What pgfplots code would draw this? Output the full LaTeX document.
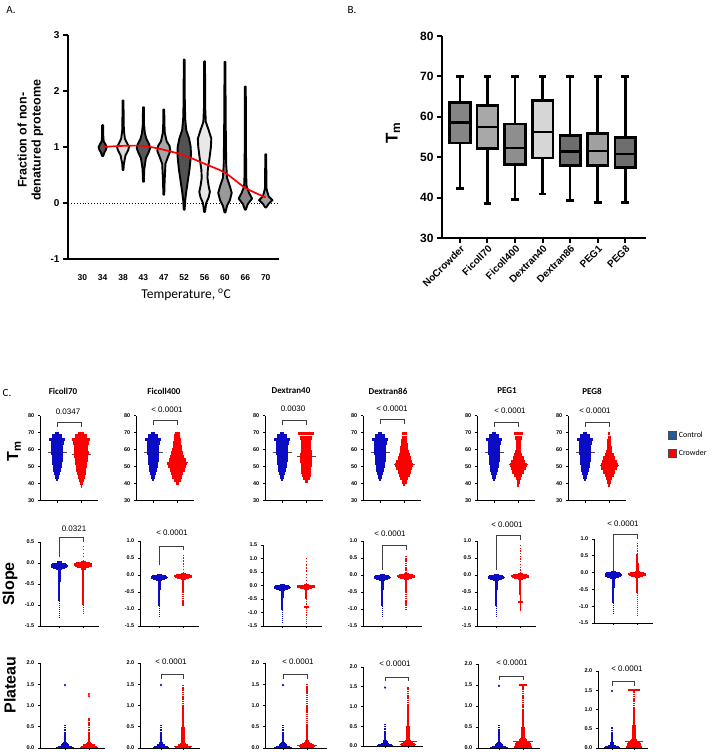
\documentclass[border=0pt]{standalone}
\usepackage{fontspec}
\setmainfont{Liberation Sans}
\newfontfamily\calib{Carlito}
\usepackage{pgfplots}
\pgfplotsset{compat=1.18}
\usepackage{pgfplotstable}

\definecolor{ctrl}{HTML}{0C0CC4}
\definecolor{crwd}{HTML}{FF0000}
\definecolor{legblue}{HTML}{245A9E}
\definecolor{bxA}{HTML}{858585}
\definecolor{bxB}{HTML}{A8A8A8}
\definecolor{bxC}{HTML}{8E8E8E}
\definecolor{bxD}{HTML}{D6D6D6}
\definecolor{bxE}{HTML}{6E6E6E}
\definecolor{bxF}{HTML}{A0A0A0}

% ---- Tm swarms: y = Tm level, w = half width of the swarm at that level
\pgfplotstableread{
y w
42.5 0.04
44 0.09
46 0.13
48 0.16
50 0.19
52 0.21
54 0.22
56 0.24
58 0.26
60 0.26
62 0.25
64 0.28
66 0.34
68 0.20
69.5 0.08
}\tmC
\pgfplotstableread{
y w
38.5 0.03
40 0.07
42 0.11
44 0.15
46 0.18
48 0.20
50 0.23
52 0.26
54 0.28
56 0.30
58 0.32
60 0.30
62 0.30
64 0.33
66 0.37
68 0.26
69.5 0.12
}\tmFa
\pgfplotstableread{
y w
40 0.06
42 0.14
44 0.20
46 0.26
48 0.32
50 0.38
52 0.42
54 0.36
56 0.30
58 0.26
60 0.22
62 0.19
64 0.17
66 0.15
68 0.13
69.5 0.10
}\tmFb
\pgfplotstableread{
y w
41.5 0.06
43 0.14
45 0.18
47 0.20
49 0.22
51 0.23
53 0.24
55 0.26
57 0.26
59 0.23
61 0.20
63 0.20
65 0.22
67 0.25
69.5 0.33
}\tmDa
\pgfplotstableread{
y w
39.5 0.05
41 0.10
43 0.16
45 0.22
47 0.28
49 0.33
51 0.38
53 0.34
55 0.28
57 0.22
59 0.18
61 0.16
63 0.14
65 0.13
67 0.11
69.5 0.10
}\tmDb
\pgfplotstableread{
y w
39 0.04
41 0.07
43 0.10
45 0.16
47 0.24
49 0.32
51 0.36
53 0.30
55 0.22
57 0.16
59 0.12
61 0.10
63 0.10
65 0.11
67 0.14
69.5 0.18
}\tmPa
\pgfplotstableread{
y w
39 0.05
41 0.08
43 0.12
45 0.18
47 0.26
49 0.33
51 0.36
53 0.32
55 0.26
57 0.18
59 0.13
61 0.11
63 0.09
65 0.08
67 0.06
69.5 0.04
}\tmPb

% ---- slope swarms (dense core)
\pgfplotstableread{
y w
0.02 0.10
-0.01 0.28
-0.04 0.34
-0.07 0.36
-0.10 0.34
-0.13 0.24
-0.16 0.12
}\slC
\pgfplotstableread{
y w
0.04 0.10
0.01 0.30
-0.02 0.37
-0.05 0.38
-0.08 0.36
-0.11 0.24
-0.14 0.10
}\slR

% ---- plateau swarms (dense core)
\pgfplotstableread{
y w
0.01 0.36
0.04 0.30
0.07 0.18
0.10 0.11
0.13 0.08
}\plC
\pgfplotstableread{
y w
0.01 0.36
0.04 0.34
0.07 0.24
0.10 0.14
0.13 0.09
}\plRa
\pgfplotstableread{
y w
0.01 0.30
0.04 0.34
0.07 0.30
0.10 0.22
0.13 0.14
0.16 0.10
}\plRb
\pgfplotstableread{
y w
0.01 0.36
0.04 0.36
0.07 0.34
0.10 0.32
0.13 0.28
0.16 0.22
0.19 0.16
0.22 0.12
0.25 0.10
}\plRc

\pgfplotsset{
  every axis/.append style={/pgf/number format/assume math mode=true},
  sw/.style={scale only axis, anchor=south west,
    axis x line=bottom, axis y line=left,
    axis line style={line width=0.8pt,-}, tick align=outside,
    major tick length=2.2pt, tick style={line width=0.6pt,black},
    xtick={0,1}, xticklabels={}, clip=false,
    tick label style={font=\fontsize{5.5}{6}\selectfont\bfseries}},
  tmrow/.style={sw, width=58pt, height=85pt, xmin=-0.72, xmax=1.7,
    ymin=30, ymax=80, ytick={30,40,50,60,70,80}},
  dec/.style={yticklabel style={/pgf/number format/.cd, fixed, fixed zerofill, precision=1}},
  slrow/.style={sw, dec, width=58.8pt, xmin=-0.8, xmax=1.65},
  plrow/.style={sw, dec, ymin=0, ymax=2, ytick={0,0.5,1,1.5,2}},
  brk/.style={black!75, line width=0.6pt},
  medl/.style={black!70, line width=0.7pt},
  bx/.style={draw=black, line width=2.6pt},
}
\newcommand{\swarm}[4]{\addplot[draw=none, mark=none, error bars/.cd, x dir=both, x explicit, error mark=none, error bar style={draw=#1, line width=#2}] table[x expr=#3, y=y, x error=w] {#4};}
\newcommand{\pv}{\fontsize{8}{9}\selectfont}
\newcommand{\ttl}{\calib\bfseries\fontsize{9}{10}\selectfont}

\begin{document}
\begin{tikzpicture}
\path[use as bounding box] (0pt,0pt) rectangle (714pt,752pt);

% ================= A: violins =================
\begin{axis}[at={(68pt,493pt)}, anchor=south west, scale only axis,
  width=211pt, height=224pt, xmin=-0.7, xmax=9.65, ymin=-1, ymax=3,
  axis x line=bottom, axis y line=left, axis line style={line width=2.4pt,-},
  tick align=outside, major tick length=5pt, tick style={line width=2pt,black},
  xtick={0,...,9}, xticklabels={30,34,38,43,47,52,56,60,66,70},
  xtick style={draw=none}, ytick={-1,0,1,2,3},
  xticklabel style={font=\fontsize{8.5}{10}\selectfont\bfseries, yshift=-7.5pt},
  yticklabel style={font=\fontsize{10}{12}\selectfont\bfseries},
  xlabel={Temperature, \textsuperscript{o}C},
  xlabel style={at={(axis description cs:0.56,-0.16)}, anchor=center,
    font=\calib\fontsize{13.5}{15}\selectfont},
  ylabel={Fraction of non-\\denatured proteome},
  ylabel style={at={(axis description cs:-0.178,0.53)}, anchor=center,
    align=center, font=\fontsize{12.5}{14}\selectfont\bfseries},
  clip=false]
\addplot[black, dotted, line width=0.9pt] coordinates {(-0.7,0) (9.65,0)};
\pgfplotsset{vio/.style={draw=black, line width=1.9pt, line join=round}}
\addplot[vio, fill=black!68] coordinates {(1.03,0.84)(1.08,0.9)(1.16,0.95)(1.2,1.0)(1.13,1.05)(1.05,1.1)(1.03,1.2)(1.025,1.39)(0.975,1.39)(0.97,1.2)(0.95,1.1)(0.87,1.05)(0.8,1.0)(0.84,0.95)(0.92,0.9)(0.97,0.84)} -- cycle;
\addplot[vio, fill=black!15] coordinates {(2.02,0.59)(2.04,0.7)(2.12,0.85)(2.26,0.95)(2.29,1.0)(2.22,1.05)(2.09,1.15)(2.04,1.3)(2.03,1.5)(2.02,1.83)(1.98,1.83)(1.97,1.5)(1.96,1.3)(1.91,1.15)(1.78,1.05)(1.71,1.0)(1.74,0.95)(1.88,0.85)(1.96,0.7)(1.98,0.59)} -- cycle;
\addplot[vio, fill=black!65] coordinates {(3.02,0.38)(3.04,0.6)(3.12,0.8)(3.25,0.9)(3.33,0.98)(3.28,1.05)(3.14,1.15)(3.07,1.25)(3.03,1.4)(3.02,1.71)(2.98,1.71)(2.97,1.4)(2.93,1.25)(2.86,1.15)(2.72,1.05)(2.67,0.98)(2.75,0.9)(2.88,0.8)(2.96,0.6)(2.98,0.38)} -- cycle;
\addplot[vio, fill=black!35] coordinates {(4.02,0.15)(4.04,0.4)(4.08,0.7)(4.2,0.82)(4.32,0.93)(4.28,1.02)(4.14,1.1)(4.05,1.25)(4.03,1.4)(4.02,1.67)(3.98,1.67)(3.97,1.4)(3.95,1.25)(3.86,1.1)(3.72,1.02)(3.68,0.93)(3.8,0.82)(3.92,0.7)(3.96,0.4)(3.98,0.15)} -- cycle;
\addplot[vio, fill=black!68] coordinates {(5.02,-0.12)(5.05,0.05)(5.1,0.2)(5.18,0.4)(5.26,0.6)(5.33,0.85)(5.32,1.0)(5.24,1.15)(5.1,1.3)(5.05,1.5)(5.03,1.8)(5.02,2.56)(4.98,2.56)(4.97,1.8)(4.95,1.5)(4.9,1.3)(4.76,1.15)(4.68,1.0)(4.67,0.85)(4.74,0.6)(4.82,0.4)(4.9,0.2)(4.95,0.05)(4.98,-0.12)} -- cycle;
\addplot[vio, fill=black!9] coordinates {(6.02,-0.16)(6.08,0)(6.2,0.1)(6.26,0.2)(6.2,0.3)(6.14,0.45)(6.16,0.6)(6.24,0.8)(6.31,1.0)(6.33,1.15)(6.2,1.3)(6.06,1.45)(6.03,1.7)(6.02,2.53)(5.98,2.53)(5.97,1.7)(5.94,1.45)(5.8,1.3)(5.67,1.15)(5.69,1.0)(5.76,0.8)(5.84,0.6)(5.86,0.45)(5.8,0.3)(5.74,0.2)(5.8,0.1)(5.92,0)(5.98,-0.16)} -- cycle;
\addplot[vio, fill=black!40] coordinates {(7.02,-0.17)(7.1,-0.05)(7.24,0.05)(7.33,0.18)(7.24,0.3)(7.1,0.45)(7.06,0.7)(7.05,1.0)(7.04,1.3)(7.03,1.8)(7.02,2.52)(6.98,2.52)(6.97,1.8)(6.96,1.3)(6.95,1.0)(6.94,0.7)(6.9,0.45)(6.76,0.3)(6.67,0.18)(6.76,0.05)(6.9,-0.05)(6.98,-0.17)} -- cycle;
\addplot[vio, fill=black!47] coordinates {(8.02,-0.12)(8.12,-0.02)(8.33,0.08)(8.18,0.18)(8.06,0.3)(8.04,0.5)(8.03,1.0)(8.02,2.08)(7.98,2.08)(7.97,1.0)(7.96,0.5)(7.94,0.3)(7.82,0.18)(7.67,0.08)(7.88,-0.02)(7.98,-0.12)} -- cycle;
\addplot[vio, fill=black!38] coordinates {(9.02,-0.08)(9.15,-0.01)(9.33,0.05)(9.14,0.12)(9.04,0.25)(9.03,0.5)(9.02,0.87)(8.98,0.87)(8.97,0.5)(8.96,0.25)(8.86,0.12)(8.67,0.05)(8.85,-0.01)(8.98,-0.08)} -- cycle;
\addplot[crwd, line width=1.7pt, smooth] coordinates {(1,1.0) (2,1.02) (3,1.02) (4,0.95) (5,0.85) (6,0.7) (7,0.54) (8,0.27) (9,0.1)};
\end{axis}

% ================= B: box plots =================
% each box: whisker, caps, box (q1..q3), median
\begin{axis}[at={(442pt,514pt)}, anchor=south west, scale only axis,
  width=204pt, height=202pt, xmin=-0.65, xmax=6.75, ymin=30, ymax=80,
  axis x line=bottom, axis y line=left, axis line style={line width=2.4pt,-},
  tick align=outside, major tick length=5pt, tick style={line width=2pt,black},
  xtick={0,...,6},
  xticklabels={NoCrowder,Ficoll70,Ficoll400,Dextran40,Dextran86,PEG1,PEG8},
  ytick={30,40,50,60,70,80},
  xticklabel style={rotate=45, anchor=north east, inner sep=1pt,
    font=\fontsize{10}{12}\selectfont\bfseries},
  yticklabel style={font=\fontsize{12}{14}\selectfont\bfseries},
  ylabel={T\textsubscript{m}},
  ylabel style={at={(axis description cs:-0.24,0.52)}, anchor=center,
    font=\fontsize{17}{19}\selectfont\bfseries}]
% NoCrowder
\addplot[bx] coordinates {(0,42.3) (0,70)};
\addplot[bx] coordinates {(-0.14,42.3) (0.14,42.3)};
\addplot[bx] coordinates {(-0.14,70) (0.14,70)};
\addplot[bx, fill=bxA] coordinates {(-0.375,53.5) (0.375,53.5) (0.375,63.6) (-0.375,63.6)} -- cycle;
\addplot[bx] coordinates {(-0.375,58.6) (0.375,58.6)};
% Ficoll70
\addplot[bx] coordinates {(1,38.5) (1,70)};
\addplot[bx] coordinates {(0.86,38.5) (1.14,38.5)};
\addplot[bx] coordinates {(0.86,70) (1.14,70)};
\addplot[bx, fill=bxB] coordinates {(0.625,52.2) (1.375,52.2) (1.375,62.8) (0.625,62.8)} -- cycle;
\addplot[bx] coordinates {(0.625,57.5) (1.375,57.5)};
% Ficoll400
\addplot[bx] coordinates {(2,39.5) (2,70)};
\addplot[bx] coordinates {(1.86,39.5) (2.14,39.5)};
\addplot[bx] coordinates {(1.86,70) (2.14,70)};
\addplot[bx, fill=bxC] coordinates {(1.625,48.2) (2.375,48.2) (2.375,58.2) (1.625,58.2)} -- cycle;
\addplot[bx] coordinates {(1.625,52.3) (2.375,52.3)};
% Dextran40
\addplot[bx] coordinates {(3,40.9) (3,70)};
\addplot[bx] coordinates {(2.86,40.9) (3.14,40.9)};
\addplot[bx] coordinates {(2.86,70) (3.14,70)};
\addplot[bx, fill=bxD] coordinates {(2.625,49.8) (3.375,49.8) (3.375,64.1) (2.625,64.1)} -- cycle;
\addplot[bx] coordinates {(2.625,56.2) (3.375,56.2)};
% Dextran86
\addplot[bx] coordinates {(4,39.3) (4,70)};
\addplot[bx] coordinates {(3.86,39.3) (4.14,39.3)};
\addplot[bx] coordinates {(3.86,70) (4.14,70)};
\addplot[bx, fill=bxE] coordinates {(3.625,48.0) (4.375,48.0) (4.375,55.3) (3.625,55.3)} -- cycle;
\addplot[bx] coordinates {(3.625,51.4) (4.375,51.4)};
% PEG1
\addplot[bx] coordinates {(5,38.8) (5,70)};
\addplot[bx] coordinates {(4.86,38.8) (5.14,38.8)};
\addplot[bx] coordinates {(4.86,70) (5.14,70)};
\addplot[bx, fill=bxF] coordinates {(4.625,48.0) (5.375,48.0) (5.375,55.9) (4.625,55.9)} -- cycle;
\addplot[bx] coordinates {(4.625,51.5) (5.375,51.5)};
% PEG8
\addplot[bx] coordinates {(6,38.8) (6,70)};
\addplot[bx] coordinates {(5.86,38.8) (6.14,38.8)};
\addplot[bx] coordinates {(5.86,70) (6.14,70)};
\addplot[bx, fill=bxE] coordinates {(5.625,47.5) (6.375,47.5) (6.375,54.9) (5.625,54.9)} -- cycle;
\addplot[bx] coordinates {(5.625,50.8) (6.375,50.8)};
\end{axis}

% ================= C: Tm row =================
\begin{axis}[tmrow, at={(40pt,251.3pt)}]
\addplot[medl] coordinates {(-0.4,58.6) (0.4,58.6)};
\addplot[medl] coordinates {(0.6,57.5) (1.42,57.5)};
\swarm{ctrl}{3.5pt}{0}{\tmC}
\swarm{crwd}{3.5pt}{1}{\tmFa}
\addplot[brk] coordinates {(0,73.5) (0,76.3) (1,76.3) (1,73.5)};
\end{axis}
\begin{axis}[tmrow, at={(136pt,251.3pt)}]
\addplot[medl] coordinates {(-0.4,58.6) (0.4,58.6)};
\addplot[medl] coordinates {(0.56,52.3) (1.46,52.3)};
\swarm{ctrl}{3.5pt}{0}{\tmC}
\swarm{crwd}{3.5pt}{1}{\tmFb}
\addplot[brk] coordinates {(0,74.5) (0,77.5) (1,77.5) (1,74.5)};
\end{axis}
\begin{axis}[tmrow, at={(265pt,251.3pt)}]
\addplot[medl] coordinates {(-0.4,58.6) (0.4,58.6)};
\addplot[medl] coordinates {(0.6,56.2) (1.42,56.2)};
\swarm{ctrl}{3.5pt}{0}{\tmC}
\swarm{crwd}{3.5pt}{1}{\tmDa}
\addplot[brk] coordinates {(0,74.5) (0,77.5) (1,77.5) (1,74.5)};
\end{axis}
\begin{axis}[tmrow, at={(363pt,251.3pt)}]
\addplot[medl] coordinates {(-0.4,58.6) (0.4,58.6)};
\addplot[medl] coordinates {(0.58,51.4) (1.44,51.4)};
\swarm{ctrl}{3.5pt}{0}{\tmC}
\swarm{crwd}{3.5pt}{1}{\tmDb}
\addplot[brk] coordinates {(0,75) (0,78) (1,78) (1,75)};
\end{axis}
\begin{axis}[tmrow, at={(477pt,251.3pt)}]
\addplot[medl] coordinates {(-0.4,58.6) (0.4,58.6)};
\addplot[medl] coordinates {(0.6,51.5) (1.42,51.5)};
\swarm{ctrl}{3.5pt}{0}{\tmC}
\swarm{crwd}{3.5pt}{1}{\tmPa}
\addplot[brk] coordinates {(0,73.5) (0,76.3) (1,76.3) (1,73.5)};
\end{axis}
\begin{axis}[tmrow, at={(568pt,251.3pt)},
  legend style={at={(axis description cs:1.724,0.832)}, anchor=north west,
    draw=none, fill=none, inner sep=0pt, row sep=7pt,
    font=\calib\fontsize{8}{9}\selectfont},
  legend cell align=left,
  legend image code/.code={\draw[#1] (0pt,-4pt) rectangle (8pt,4pt);}]
\addlegendimage{fill=legblue, draw=black!70, line width=0.6pt}
\addlegendentry{Control}
\addlegendimage{fill=crwd, draw=black!70, line width=0.6pt}
\addlegendentry{Crowder}
\addplot[medl, forget plot] coordinates {(-0.4,58.6) (0.4,58.6)};
\addplot[medl, forget plot] coordinates {(0.6,50.8) (1.42,50.8)};
\swarm{ctrl}{3.5pt}{0}{\tmC}
\swarm{crwd}{3.5pt}{1}{\tmPb}
\addplot[brk, forget plot] coordinates {(0,73.5) (0,76.3) (1,76.3) (1,73.5)};
\end{axis}

% ================= C: slope row =================
\begin{axis}[slrow, at={(40pt,126pt)}, height=84pt, ymin=-1.5, ymax=0.5, ytick={-1.5,-1,-0.5,0,0.5}]
\addplot[ctrl, line width=2.6pt] coordinates {(0,-0.16) (0,-0.45)};
\addplot[ctrl, line width=1.8pt] coordinates {(0,-0.45) (0,-0.9)};
\addplot[ctrl, line width=1.2pt, dash pattern=on 1.2pt off 0.8pt] coordinates {(0,-0.9) (0,-1.3)};
\addplot[crwd, line width=2.4pt] coordinates {(1,-0.14) (1,-0.6)};
\addplot[crwd, line width=1.6pt] coordinates {(1,-0.6) (1,-1.0)};
\addplot[crwd, line width=1.2pt, dash pattern=on 1.2pt off 0.8pt] coordinates {(1,-1.0) (1,-1.2)};
\addplot[crwd, line width=1.4pt, dash pattern=on 1.3pt off 2.2pt] coordinates {(1,0.05) (1,0.4)};
\swarm{ctrl}{1.4pt}{0}{\slC}
\swarm{crwd}{1.4pt}{1}{\slR}
\addplot[brk] coordinates {(0,0.14) (0,0.6) (1,0.6) (1,0.5)};
\end{axis}
\begin{axis}[slrow, at={(140pt,126pt)}, height=85pt, ymin=-1.5, ymax=1, ytick={-1.5,-1,-0.5,0,0.5,1}]
\addplot[ctrl, line width=2.6pt] coordinates {(0,-0.16) (0,-0.45)};
\addplot[ctrl, line width=1.8pt] coordinates {(0,-0.45) (0,-0.9)};
\addplot[ctrl, line width=1.2pt, dash pattern=on 1.2pt off 0.8pt] coordinates {(0,-0.9) (0,-1.25)};
\addplot[crwd, line width=2.4pt] coordinates {(1,-0.14) (1,-0.5)};
\addplot[crwd, line width=1.5pt, dash pattern=on 1.2pt off 0.7pt] coordinates {(1,-0.5) (1,-0.93)};
\addplot[crwd, line width=1.4pt, dash pattern=on 1.3pt off 1.6pt] coordinates {(1,0.05) (1,0.58)};
\swarm{ctrl}{1.4pt}{0}{\slC}
\swarm{crwd}{1.4pt}{1}{\slR}
\addplot[brk] coordinates {(0,0.29) (0,0.85) (1,0.85) (1,0.74)};
\end{axis}
\begin{axis}[slrow, at={(263pt,126pt)}, height=81pt, ymin=-1.5, ymax=1.5, ytick={-1.5,-1,-0.5,0,0.5,1,1.5}]
\addplot[ctrl, line width=2.6pt] coordinates {(0,-0.16) (0,-0.45)};
\addplot[ctrl, line width=1.8pt] coordinates {(0,-0.45) (0,-0.9)};
\addplot[ctrl, line width=1.2pt, dash pattern=on 1.2pt off 0.8pt] coordinates {(0,-0.9) (0,-1.35)};
\addplot[crwd, line width=2.0pt] coordinates {(1,-0.14) (1,-0.5)};
\addplot[crwd, line width=1.4pt, dash pattern=on 1.2pt off 1pt] coordinates {(1,-0.5) (1,-1.4)};
\addplot[crwd, line width=1.5pt] coordinates {(0.9,-0.8) (1.1,-0.8)};
\addplot[crwd, line width=1.4pt, dash pattern=on 1.3pt off 1.8pt] coordinates {(1,0.05) (1,1.0)};
\swarm{ctrl}{1.4pt}{0}{\slC}
\swarm{crwd}{1.4pt}{1}{\slR}
\end{axis}
\begin{axis}[slrow, at={(363pt,126pt)}, height=85pt, ymin=-1.5, ymax=1, ytick={-1.5,-1,-0.5,0,0.5,1}]
\addplot[ctrl, line width=2.6pt] coordinates {(0,-0.16) (0,-0.45)};
\addplot[ctrl, line width=1.8pt] coordinates {(0,-0.45) (0,-0.9)};
\addplot[ctrl, line width=1.2pt, dash pattern=on 1.2pt off 0.8pt] coordinates {(0,-0.9) (0,-1.25)};
\addplot[crwd, line width=2.4pt] coordinates {(1,-0.14) (1,-0.5)};
\addplot[crwd, line width=1.6pt, dash pattern=on 1.2pt off 0.7pt] coordinates {(1,-0.5) (1,-1.05)};
\addplot[crwd, line width=1.8pt, dash pattern=on 1.2pt off 0.6pt] coordinates {(1,0.05) (1,0.56)};
\swarm{ctrl}{1.4pt}{0}{\slC}
\swarm{crwd}{1.4pt}{1}{\slR}
\addplot[brk] coordinates {(0,0.15) (0,0.88) (1,0.88) (1,0.74)};
\end{axis}
\begin{axis}[slrow, at={(477pt,126pt)}, height=85pt, ymin=-1.5, ymax=1, ytick={-1.5,-1,-0.5,0,0.5,1}]
\addplot[ctrl, line width=2.6pt] coordinates {(0,-0.16) (0,-0.45)};
\addplot[ctrl, line width=1.8pt] coordinates {(0,-0.45) (0,-0.9)};
\addplot[ctrl, line width=1.2pt, dash pattern=on 1.2pt off 0.8pt] coordinates {(0,-0.9) (0,-1.25)};
\addplot[crwd, line width=2.2pt] coordinates {(1,-0.14) (1,-0.6)};
\addplot[crwd, line width=1.4pt, dash pattern=on 1.2pt off 0.8pt] coordinates {(1,-0.6) (1,-1.05)};
\addplot[crwd, line width=1.5pt] coordinates {(0.9,-0.8) (1.1,-0.8)};
\addplot[crwd, line width=1.4pt, dash pattern=on 1.3pt off 1.4pt] coordinates {(1,0.05) (1,0.9)};
\swarm{ctrl}{1.4pt}{0}{\slC}
\swarm{crwd}{1.4pt}{1}{\slR}
\addplot[brk] coordinates {(0,0.15) (0,1.18) (1,1.18) (1,1.03)};
\end{axis}
\begin{axis}[slrow, at={(594pt,129pt)}, height=84pt, ymin=-1.5, ymax=1, ytick={-1.5,-1,-0.5,0,0.5,1}]
\addplot[ctrl, line width=2.6pt] coordinates {(0,-0.16) (0,-0.45)};
\addplot[ctrl, line width=1.8pt] coordinates {(0,-0.45) (0,-0.9)};
\addplot[ctrl, line width=1.2pt, dash pattern=on 1.2pt off 0.8pt] coordinates {(0,-0.9) (0,-1.25)};
\addplot[crwd, line width=2.4pt] coordinates {(1,-0.14) (1,-0.6)};
\addplot[crwd, line width=1.4pt, dash pattern=on 1.2pt off 0.8pt] coordinates {(1,-0.6) (1,-1.3)};
\addplot[crwd, line width=3.2pt] coordinates {(1,0.04) (1,0.3)};
\addplot[crwd, line width=2.2pt] coordinates {(1,0.3) (1,0.55)};
\addplot[crwd, line width=1.4pt, dash pattern=on 1.3pt off 1.2pt] coordinates {(1,0.55) (1,0.9)};
\swarm{ctrl}{1.4pt}{0}{\slC}
\swarm{crwd}{1.4pt}{1}{\slR}
\addplot[brk] coordinates {(0,0.05) (0,1.15) (1,1.15) (1,1.0)};
\end{axis}

% ================= C: plateau row =================
\begin{axis}[plrow, at={(40pt,4pt)}, width=65pt, height=85pt, xmin=-1.04, xmax=1.67]
\addplot[ctrl, line width=2.4pt] coordinates {(0,0.13) (0,0.35)};
\addplot[ctrl, line width=1.5pt, dash pattern=on 1.2pt off 0.5pt] coordinates {(0,0.35) (0,0.55)};
\addplot[ctrl, only marks, mark=*, mark size=0.9pt] coordinates {(0,1.48)};
\addplot[crwd, line width=2.8pt] coordinates {(1,0.13) (1,0.35)};
\addplot[crwd, line width=1.8pt, dash pattern=on 1.2pt off 0.5pt] coordinates {(1,0.35) (1,0.7)};
\addplot[crwd, only marks, mark=*, mark size=0.9pt] coordinates {(1,1.22) (1,1.27)};
\swarm{ctrl}{1.4pt}{0}{\plC}
\swarm{crwd}{1.4pt}{1}{\plRa}
\end{axis}
\begin{axis}[plrow, at={(140pt,4pt)}, width=60pt, height=85pt, xmin=-0.95, xmax=1.77]
\addplot[medl] coordinates {(0.6,0.05) (1.4,0.05)};
\addplot[ctrl, line width=2.4pt] coordinates {(0,0.13) (0,0.35)};
\addplot[ctrl, line width=1.5pt, dash pattern=on 1.2pt off 0.5pt] coordinates {(0,0.35) (0,0.55)};
\addplot[ctrl, only marks, mark=*, mark size=0.9pt] coordinates {(0,1.48)};
\addplot[crwd, line width=3.2pt] coordinates {(1,0.13) (1,0.5)};
\addplot[crwd, line width=2.4pt] coordinates {(1,0.5) (1,0.95)};
\addplot[crwd, line width=1.4pt, dash pattern=on 1.2pt off 0.6pt] coordinates {(1,0.95) (1,1.5)};
\swarm{ctrl}{1.4pt}{0}{\plC}
\swarm{crwd}{1.4pt}{1}{\plRa}
\addplot[brk] coordinates {(0,1.62) (0,1.74) (1,1.74) (1,1.62)};
\end{axis}
\begin{axis}[plrow, at={(265pt,4pt)}, width=62pt, height=85pt, xmin=-0.75, xmax=1.83]
\addplot[medl] coordinates {(0.6,0.07) (1.4,0.07)};
\addplot[ctrl, line width=2.4pt] coordinates {(0,0.13) (0,0.35)};
\addplot[ctrl, line width=1.5pt, dash pattern=on 1.2pt off 0.5pt] coordinates {(0,0.35) (0,0.55)};
\addplot[ctrl, only marks, mark=*, mark size=0.9pt] coordinates {(0,1.48)};
\addplot[crwd, line width=2.4pt] coordinates {(1,0.16) (1,0.5)};
\addplot[crwd, line width=1.8pt, dash pattern=on 1.3pt off 0.6pt] coordinates {(1,0.5) (1,1.5)};
\swarm{ctrl}{1.4pt}{0}{\plC}
\swarm{crwd}{1.4pt}{1}{\plRb}
\addplot[brk] coordinates {(0,1.62) (0,1.74) (1,1.74) (1,1.62)};
\end{axis}
\begin{axis}[plrow, at={(363pt,6pt)}, width=60pt, height=79pt, xmin=-0.96, xmax=1.65]
\addplot[medl] coordinates {(0.6,0.12) (1.4,0.12)};
\addplot[ctrl, line width=2.4pt] coordinates {(0,0.13) (0,0.35)};
\addplot[ctrl, line width=1.5pt, dash pattern=on 1.2pt off 0.5pt] coordinates {(0,0.35) (0,0.55)};
\addplot[ctrl, only marks, mark=*, mark size=0.9pt] coordinates {(0,1.48)};
\addplot[crwd, line width=3.2pt] coordinates {(1,0.16) (1,0.5)};
\addplot[crwd, line width=2.4pt] coordinates {(1,0.5) (1,0.95)};
\addplot[crwd, line width=1.5pt, dash pattern=on 1.2pt off 0.6pt] coordinates {(1,0.95) (1,1.5)};
\swarm{ctrl}{1.4pt}{0}{\plC}
\swarm{crwd}{1.4pt}{1}{\plRb}
\addplot[brk] coordinates {(0,1.65) (0,1.75) (1,1.75) (1,1.65)};
\end{axis}
\begin{axis}[plrow, at={(478pt,4pt)}, width=62pt, height=84pt, xmin=-0.875, xmax=1.71]
\addplot[medl] coordinates {(0.6,0.15) (1.4,0.15)};
\addplot[ctrl, line width=2.4pt] coordinates {(0,0.13) (0,0.35)};
\addplot[ctrl, line width=1.5pt, dash pattern=on 1.2pt off 0.5pt] coordinates {(0,0.35) (0,0.55)};
\addplot[ctrl, only marks, mark=*, mark size=0.9pt] coordinates {(0,1.48)};
\addplot[crwd, line width=3.4pt] coordinates {(1,0.25) (1,0.5)};
\addplot[crwd, line width=2.6pt] coordinates {(1,0.5) (1,0.9)};
\addplot[crwd, line width=1.8pt, dash pattern=on 1.2pt off 0.6pt] coordinates {(1,0.9) (1,1.5)};
\addplot[crwd, line width=1.4pt] coordinates {(0.82,1.5) (1.18,1.5)};
\swarm{ctrl}{1.4pt}{0}{\plC}
\swarm{crwd}{1.4pt}{1}{\plRc}
\addplot[brk] coordinates {(0,1.62) (0,1.71) (1,1.71) (1,1.62)};
\end{axis}
\begin{axis}[plrow, at={(598pt,4pt)}, width=50pt, height=77pt, xmin=-0.64, xmax=1.64]
\addplot[medl] coordinates {(0.6,0.17) (1.4,0.17)};
\addplot[ctrl, line width=2.4pt] coordinates {(0,0.13) (0,0.35)};
\addplot[ctrl, line width=1.5pt, dash pattern=on 1.2pt off 0.5pt] coordinates {(0,0.35) (0,0.55)};
\addplot[ctrl, only marks, mark=*, mark size=0.9pt] coordinates {(0,1.48)};
\addplot[crwd, line width=3.4pt] coordinates {(1,0.25) (1,0.6)};
\addplot[crwd, line width=2.6pt] coordinates {(1,0.6) (1,0.95)};
\addplot[crwd, line width=1.8pt, dash pattern=on 1.2pt off 0.6pt] coordinates {(1,0.95) (1,1.5)};
\addplot[crwd, line width=1.6pt] coordinates {(0.72,1.5) (1.28,1.5)};
\swarm{ctrl}{1.4pt}{0}{\plC}
\swarm{crwd}{1.4pt}{1}{\plRc}
\addplot[brk] coordinates {(0,1.61) (0,1.74) (1,1.74) (1,1.61)};
\end{axis}

% ================= text =================
\node[font=\calib\fontsize{11}{12}\selectfont] at (11pt,742pt) {A.};
\node[font=\calib\fontsize{11}{12}\selectfont] at (352pt,742pt) {B.};
\node[font=\calib\fontsize{11}{12}\selectfont] at (7pt,359pt) {C.};

\node[font=\ttl] at (63pt,361pt) {Ficoll70};
\node[font=\ttl] at (164pt,361pt) {Ficoll400};
\node[font=\ttl] at (291pt,361pt) {Dextran40};
\node[font=\ttl] at (388pt,361pt) {Dextran86};
\node[font=\ttl] at (507pt,361pt) {PEG1};
\node[font=\ttl] at (592pt,361pt) {PEG8};

\node[rotate=90, font=\fontsize{16}{18}\selectfont\bfseries] at (14pt,301pt) {T\textsubscript{m}};
\node[rotate=90, font=\fontsize{16}{18}\selectfont\bfseries] at (10pt,168pt) {Slope};
\node[rotate=90, font=\fontsize{16}{18}\selectfont\bfseries] at (10pt,67pt) {Plateau};

\node[font=\pv] at (68pt,340pt) {0.0347};
\node[font=\pv] at (167pt,342pt) {< 0.0001};
\node[font=\pv] at (293pt,343pt) {0.0030};
\node[font=\pv] at (392pt,343pt) {< 0.0001};
\node[font=\pv] at (510pt,341pt) {< 0.0001};
\node[font=\pv] at (595pt,341pt) {< 0.0001};

\node[font=\pv] at (74pt,223pt) {0.0321};
\node[font=\pv] at (172pt,219pt) {< 0.0001};
\node[font=\pv] at (390pt,218pt) {< 0.0001};
\node[font=\pv] at (507pt,227pt) {< 0.0001};
\node[font=\pv] at (623pt,228pt) {< 0.0001};

\node[font=\pv] at (171pt,90pt) {< 0.0001};
\node[font=\pv] at (298pt,90pt) {< 0.0001};
\node[font=\pv] at (395pt,88pt) {< 0.0001};
\node[font=\pv] at (512pt,89pt) {< 0.0001};
\node[font=\pv] at (627pt,83pt) {< 0.0001};
\end{tikzpicture}
\end{document}
